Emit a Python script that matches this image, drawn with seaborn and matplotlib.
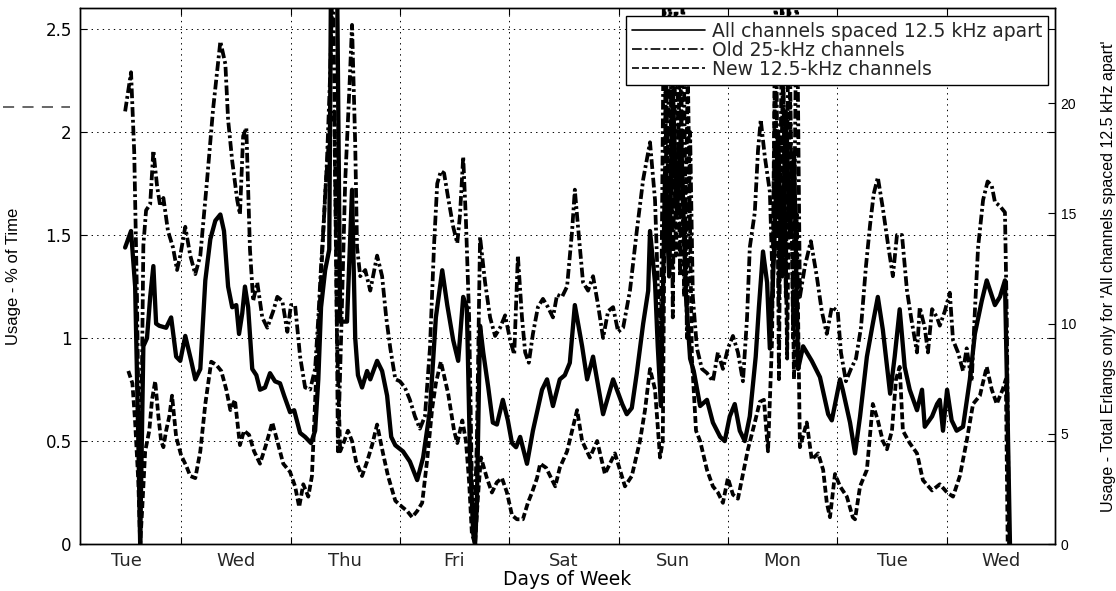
import matplotlib
matplotlib.use("Agg")
import matplotlib.pyplot as plt
from matplotlib.lines import Line2D
import seaborn as sns

# Hours since midnight at the start of the first Tuesday
all_hours = [11.7, 13.0, 13.9, 14.6, 15.0, 15.7, 16.5, 17.2, 17.9, 18.5, 19.2, 20.7, 21.8, 22.9, 23.8, 24.9, 26.2, 27.1, 28.2, 29.3,
             30.4, 31.5, 32.6, 33.4, 34.3, 35.2, 36.1, 36.7, 37.4, 38.0, 38.7, 39.6, 40.5, 41.3, 42.4, 43.5, 44.6, 45.7, 46.6, 47.9,
             48.8, 50.1, 51.2, 52.5, 53.4, 54.1, 54.7, 55.6, 56.5, 56.9, 58.2, 58.9, 60.4, 61.5, 62.2, 62.8, 63.7, 64.8, 65.5, 67.0,
             68.1, 69.2, 70.1, 71.0, 72.7, 74.2, 75.8, 77.1, 78.6, 79.9, 81.3, 82.4, 83.7, 84.8, 85.9, 86.7, 87.4, 88.1, 88.5, 88.9,
             89.6, 90.3, 91.4, 92.4, 93.3, 94.6, 95.7, 96.6, 97.5, 98.4, 99.9, 101.2, 103.2, 104.3, 105.6, 107.1, 108.2, 109.3, 110.4, 112.0,
             113.1, 114.4, 116.6, 118.8, 120.8, 121.8, 122.9, 124.0, 125.4, 126.5, 126.9, 128.0, 128.6, 129.3, 130.2, 131.1, 131.9, 132.8, 133.7, 134.8,
             135.7, 136.5, 137.9, 139.4, 140.7, 142.3, 143.3, 144.4, 145.5, 146.6, 147.7, 148.8, 150.1, 150.8, 151.7, 152.6, 153.2, 154.1, 155.0, 155.9,
             156.7, 157.6, 158.5, 159.4, 160.5, 162.4, 164.2, 166.0, 166.8, 168.6, 169.2, 170.8, 171.9, 173.0, 174.5, 175.8, 176.9, 178.0, 179.6, 180.6,
             181.7, 182.8, 183.9, 185.5, 186.6, 187.2, 188.8, 189.9, 190.5, 191.2, 192.1, 193.1, 194.2, 195.6, 197.1, 198.2, 199.7, 200.8, 202.6, 203.7,
             204.8, 205.4, 205.9]
all_erlangs = [13.45, 14.2, 11.68, 4.67, 0.0, 8.97, 9.34, 11.21, 12.61, 10.0, 9.9, 9.81, 10.28, 8.5, 8.31, 9.44, 8.31, 7.47, 7.94, 11.96,
               13.83, 14.67, 14.95, 14.2, 11.68, 10.74, 10.84, 9.53, 10.46, 11.68, 10.74, 7.94, 7.66, 7.0, 7.1, 7.75, 7.38, 7.29, 6.73, 5.98,
               6.07, 5.04, 4.86, 4.58, 5.14, 7.47, 10.74, 12.42, 13.36, 26.2, 26.2, 10.09, 10.09, 16.07, 9.34, 7.66, 7.1, 7.85, 7.47, 8.31,
               7.85, 6.73, 4.86, 4.48, 4.2, 3.74, 2.9, 3.92, 6.07, 10.28, 12.42, 10.84, 9.25, 8.31, 11.21, 10.74, 3.92, 0.47, 0.0, 1.87,
               9.9, 8.69, 7.1, 5.51, 5.42, 6.54, 5.61, 4.58, 4.39, 4.86, 3.64, 5.14, 7.0, 7.47, 6.26, 7.47, 7.66, 8.22, 10.84, 8.97,
               7.47, 8.5, 5.89, 7.47, 6.35, 5.89, 6.17, 7.75, 10.0, 11.49, 14.2, 11.86, 8.97, 6.26, 16.82, 12.14, 20.55, 14.95, 18.68, 11.21,
               8.41, 7.85, 6.26, 6.54, 5.51, 4.86, 4.67, 5.79, 6.35, 5.14, 4.67, 5.79, 8.5, 10.74, 13.27, 11.86, 8.87, 13.08, 18.68, 12.14,
               19.62, 14.01, 17.75, 7.94, 8.97, 8.31, 7.57, 5.89, 5.61, 7.47, 7.0, 5.51, 4.11, 5.79, 8.5, 10.0, 11.21, 9.72, 6.82, 8.5,
               10.65, 8.03, 7.0, 6.07, 7.0, 5.32, 5.79, 6.35, 6.54, 5.14, 7.0, 5.61, 5.14, 5.32, 7.47, 9.53, 11.02, 11.96, 10.84, 11.21,
               11.96, 5.61, 0.0]

old_hours = [11.7, 13.0, 13.7, 14.3, 15.0, 15.7, 16.3, 17.2, 17.9, 18.7, 19.4, 20.1, 21.1, 22.2, 23.1, 23.8, 24.9, 26.0, 27.1, 28.2,
             29.7, 31.0, 32.6, 33.7, 34.3, 35.2, 36.3, 36.9, 37.6, 38.3, 39.1, 39.8, 40.7, 41.8, 42.9, 44.2, 45.1, 46.2, 47.3, 48.1,
             49.0, 50.1, 51.2, 52.3, 53.4, 54.1, 54.7, 55.4, 56.0, 56.7, 57.3, 58.0, 58.4, 59.1, 60.0, 60.9, 61.5, 62.2, 62.6, 63.3,
             64.4, 65.5, 67.0, 68.1, 69.0, 69.9, 71.0, 72.0, 73.1, 74.2, 75.3, 76.4, 77.5, 78.6, 79.5, 80.2, 81.0, 81.7, 82.6, 83.7,
             84.6, 85.2, 85.9, 86.5, 87.2, 87.8, 88.3, 88.9, 89.6, 90.7, 91.8, 92.9, 94.0, 95.1, 96.2, 97.1, 97.9, 98.8, 99.5, 100.3,
             101.2, 102.3, 103.4, 104.5, 105.6, 106.5, 107.6, 108.7, 109.8, 110.4, 111.1, 112.2, 113.3, 114.4, 115.5, 116.6, 117.7, 118.8, 119.9, 121.0,
             122.5, 124.0, 125.4, 126.9, 128.0, 128.6, 129.3, 130.0, 130.6, 131.3, 131.9, 132.6, 133.5, 134.1, 135.0, 135.7, 136.3, 137.2, 138.3, 139.4,
             140.7, 141.8, 142.9, 144.0, 145.1, 146.2, 147.3, 148.2, 148.8, 149.9, 150.6, 151.2, 152.1, 153.2, 153.9, 154.5, 155.2, 155.9, 156.7, 157.4,
             158.3, 159.1, 159.8, 160.9, 162.2, 163.5, 164.6, 165.7, 166.8, 168.1, 168.8, 169.9, 171.0, 172.1, 173.2, 174.3, 175.2, 176.0, 176.9, 178.0,
             179.1, 180.2, 181.1, 182.2, 183.3, 184.2, 185.5, 186.1, 187.2, 187.9, 188.8, 189.9, 190.5, 191.6, 192.7, 193.4, 194.5, 195.6, 196.4, 197.5,
             198.2, 198.9, 200.0, 201.0, 201.9, 202.6, 203.7, 204.8, 205.2, 205.7]
old_pct = [2.10, 2.29, 1.90, 1.20, 0.05, 1.45, 1.62, 1.65, 1.91, 1.74, 1.64, 1.68, 1.52, 1.44, 1.33, 1.40, 1.54, 1.40, 1.31, 1.40,
           1.77, 2.11, 2.44, 2.33, 2.06, 1.86, 1.67, 1.60, 1.98, 2.02, 1.43, 1.18, 1.27, 1.10, 1.05, 1.13, 1.20, 1.18, 1.03, 1.16,
           1.16, 0.91, 0.76, 0.75, 0.85, 1.10, 1.35, 1.60, 1.86, 2.28, 2.80, 1.50, 0.45, 1.00, 1.76, 2.20, 2.52, 1.94, 1.44, 1.30,
           1.33, 1.23, 1.40, 1.30, 1.10, 0.95, 0.80, 0.79, 0.76, 0.70, 0.62, 0.56, 0.62, 0.95, 1.45, 1.75, 1.81, 1.80, 1.68, 1.54,
           1.46, 1.60, 1.88, 1.57, 1.10, 0.30, 0.05, 0.50, 1.49, 1.27, 1.10, 1.01, 1.05, 1.11, 0.99, 0.92, 1.40, 1.10, 0.93, 0.88,
           1.02, 1.15, 1.19, 1.15, 1.10, 1.21, 1.20, 1.25, 1.52, 1.72, 1.54, 1.27, 1.23, 1.30, 1.16, 1.00, 1.13, 1.15, 1.03, 1.05,
           1.23, 1.52, 1.77, 1.95, 1.67, 1.27, 0.95, 2.80, 1.50, 2.80, 1.10, 2.80, 1.30, 2.80, 1.00, 2.00, 1.20, 0.95, 0.85, 0.83,
           0.79, 0.93, 0.85, 0.95, 1.01, 0.93, 0.79, 1.10, 1.44, 1.61, 1.91, 2.06, 1.88, 1.71, 1.20, 2.80, 0.80, 2.80, 1.20, 2.80,
           1.00, 2.80, 1.20, 1.35, 1.47, 1.30, 1.13, 1.02, 1.15, 1.13, 0.93, 0.79, 0.85, 0.90, 1.05, 1.35, 1.55, 1.70, 1.78, 1.63,
           1.46, 1.30, 1.50, 1.50, 1.23, 1.10, 0.93, 1.15, 1.05, 0.93, 1.14, 1.10, 1.06, 1.13, 1.22, 0.99, 0.93, 0.84, 0.95, 0.79,
           1.13, 1.44, 1.67, 1.76, 1.74, 1.66, 1.64, 1.61, 1.10, 0.00]

new_hours = [12.4, 13.3, 13.9, 14.6, 15.0, 15.4, 16.1, 17.0, 17.6, 18.3, 19.0, 19.6, 20.1, 20.7, 21.4, 22.0, 22.9, 24.0, 25.1, 26.0,
             27.1, 28.2, 29.3, 30.6, 31.7, 32.8, 33.9, 34.8, 35.8, 36.9, 37.8, 38.9, 40.0, 41.3, 42.6, 44.0, 45.1, 46.4, 47.9, 49.0,
             49.9, 50.8, 51.9, 52.7, 53.6, 54.5, 55.6, 56.7, 57.6, 58.2, 58.9, 59.8, 60.6, 61.5, 62.4, 63.7, 64.8, 65.9, 67.0, 68.3,
             69.4, 71.0, 72.5, 73.6, 74.7, 75.8, 76.9, 78.0, 79.1, 79.9, 81.0, 82.6, 83.9, 84.6, 85.7, 86.5, 87.2, 87.8, 88.5, 89.2,
             89.8, 91.1, 92.2, 93.3, 94.4, 95.5, 96.6, 97.7, 99.0, 100.1, 101.0, 102.1, 102.8, 104.1, 105.0, 106.1, 107.1, 108.7, 109.8, 110.9,
             112.0, 113.7, 115.3, 117.0, 119.2, 121.4, 122.9, 124.7, 125.8, 126.9, 128.0, 129.1, 129.7, 130.4, 131.1, 131.7, 132.6, 133.5, 134.4, 135.2,
             136.1, 137.0, 137.9, 139.4, 140.7, 141.8, 142.9, 144.0, 145.1, 146.2, 147.3, 148.4, 149.9, 151.0, 151.9, 152.8, 153.7, 154.3, 155.2, 156.1,
             157.0, 157.6, 158.5, 159.1, 159.8, 161.3, 162.4, 163.8, 164.9, 165.7, 166.4, 167.5, 168.6, 170.1, 171.4, 171.9, 173.0, 174.5, 175.8, 176.9,
             178.0, 178.9, 180.0, 180.9, 181.7, 182.4, 183.9, 185.5, 186.8, 188.8, 190.5, 192.1, 193.4, 194.9, 196.4, 197.8, 199.3, 200.8, 201.9, 203.0,
             204.3, 205.0, 205.4]
new_pct = [0.84, 0.78, 0.59, 0.30, 0.00, 0.15, 0.45, 0.55, 0.70, 0.79, 0.62, 0.50, 0.47, 0.55, 0.62, 0.72, 0.52, 0.43, 0.38, 0.33,
           0.32, 0.45, 0.68, 0.885, 0.87, 0.84, 0.75, 0.65, 0.70, 0.48, 0.55, 0.53, 0.45, 0.39, 0.48, 0.59, 0.50, 0.39, 0.35, 0.28,
           0.18, 0.29, 0.23, 0.33, 0.80, 1.20, 1.70, 2.05, 2.10, 1.00, 0.45, 0.50, 0.55, 0.50, 0.40, 0.33, 0.40, 0.48, 0.58, 0.44,
           0.33, 0.21, 0.18, 0.16, 0.13, 0.16, 0.20, 0.41, 0.66, 0.78, 0.885, 0.73, 0.55, 0.49, 0.60, 0.50, 0.30, 0.05, 0.00, 0.25,
           0.42, 0.32, 0.25, 0.30, 0.32, 0.25, 0.14, 0.12, 0.12, 0.20, 0.25, 0.32, 0.39, 0.37, 0.33, 0.28, 0.37, 0.45, 0.55, 0.65,
           0.50, 0.42, 0.50, 0.34, 0.44, 0.28, 0.33, 0.50, 0.65, 0.85, 0.75, 0.42, 0.50, 2.40, 1.30, 2.50, 1.40, 2.40, 1.20, 2.30,
           0.90, 0.55, 0.50, 0.36, 0.28, 0.25, 0.20, 0.32, 0.24, 0.22, 0.34, 0.46, 0.59, 0.69, 0.70, 0.45, 1.00, 2.40, 1.20, 2.30,
           0.90, 2.20, 0.80, 1.60, 0.47, 0.59, 0.41, 0.44, 0.36, 0.20, 0.13, 0.34, 0.28, 0.23, 0.13, 0.12, 0.28, 0.36, 0.68, 0.60,
           0.50, 0.46, 0.55, 0.80, 0.86, 0.55, 0.49, 0.44, 0.31, 0.26, 0.29, 0.25, 0.23, 0.33, 0.50, 0.68, 0.72, 0.86, 0.75, 0.68,
           0.75, 0.80, 0.00]

assert len(all_hours) == len(all_erlangs)
assert len(old_hours) == len(old_pct)
assert len(new_hours) == len(new_pct)

day_names = ["Tue", "Wed", "Thu", "Fri", "Sat", "Sun", "Mon", "Tue", "Wed"]
day_starts = [24, 48, 72, 96, 120, 144, 168, 192]
day_middles = [12, 36, 60, 84, 108, 132, 156, 180, 204]
pct_ticks = [0, 0.5, 1, 1.5, 2, 2.5]
erlang_ticks = [0, 5, 10, 15, 20]
series_names = ["All channels spaced 12.5 kHz apart",
                "Old 25-kHz channels",
                "New 12.5-kHz channels"]

sns.set_theme(style="white")
plt.rcParams["font.family"] = ["DejaVu Sans"]
plt.rcParams["lines.scale_dashes"] = False

DASHED = (5.0, 2.2)
DASH_DOT = (7.0, 2.2, 2.0, 2.2)
LW = 2.7

fig = plt.figure(figsize=(11.16, 5.91), dpi=100)
ax = fig.add_axes([0.0717, 0.0795, 0.8737, 0.9063])
ax2 = ax.twinx()

sns.lineplot(x=old_hours, y=old_pct, ax=ax, color="black", lw=LW, sort=False, estimator=None)
ax.lines[-1].set_dashes(DASH_DOT)
sns.lineplot(x=new_hours, y=new_pct, ax=ax, color="black", lw=LW, sort=False, estimator=None)
ax.lines[-1].set_dashes(DASHED)
sns.lineplot(x=all_hours, y=all_erlangs, ax=ax2, color="black", lw=LW + 0.4, sort=False, estimator=None)

ax.set_xlim(1.8, 215.8)
ax.set_ylim(0, 2.6)
ax2.set_ylim(0, 24.3)

# Day boundaries carry the grid; day names sit between them
ax.set_xticks(day_starts)
ax.set_xticklabels([])
ax.set_xticks(day_middles, labels=day_names, minor=True)
ax.set_yticks(pct_ticks, labels=[f"{t:g}" for t in pct_ticks])
ax2.set_yticks(erlang_ticks, labels=[str(t) for t in erlang_ticks])

ax.grid(True, which="major", color="black", lw=0.7, linestyle=(0, (1, 3)))
ax.tick_params(axis="both", which="major", direction="in", length=5, width=0.8,
               top=True, right=True, bottom=True, left=True, colors="black")
ax.tick_params(axis="x", which="minor", length=0, pad=6, labelsize=13)
ax.tick_params(axis="y", which="major", pad=6, labelsize=12)
ax2.tick_params(axis="y", direction="in", length=5, width=0.8, pad=4, colors="black")
for lbl in ax2.get_yticklabels():
    lbl.set_fontfamily(["Liberation Sans", "DejaVu Sans"])
    lbl.set_fontsize(10)

for a in (ax, ax2):
    for sp in a.spines.values():
        sp.set_color("black")
        sp.set_linewidth(1.0)

ax.set_xlabel("Days of Week", fontsize=13.5, labelpad=0, color="black")
ax.set_ylabel("Usage - % of Time", fontsize=12, family=["Liberation Sans", "DejaVu Sans"], color="black")
ax.yaxis.set_label_coords(-0.061, 0.5)
ax2.set_ylabel("Usage - Total Erlangs only for 'All channels spaced 12.5 kHz apart'",
               fontsize=11.5, family=["Liberation Sans", "DejaVu Sans"], color="black", rotation=90)
ax2.yaxis.set_label_coords(1.047, 0.5)

handles = [Line2D([], [], color="black", lw=1.2),
           Line2D([], [], color="black", lw=1.2, dashes=DASH_DOT),
           Line2D([], [], color="black", lw=1.2, dashes=DASHED)]
leg = ax2.legend(handles, series_names, loc="upper right", bbox_to_anchor=(0.993, 0.985),
                 borderaxespad=0, frameon=True, fancybox=False, framealpha=1,
                 edgecolor="black", fontsize=13.5, handlelength=3.9, handletextpad=0.4,
                 labelspacing=0.0, borderpad=0.3)
leg.get_frame().set_linewidth(1.0)

# faint dashed mark left of the axes
fig.add_artist(Line2D([0.003, 0.063], [0.819, 0.819], transform=fig.transFigure,
                      color="0.3", lw=1.2, dashes=(8, 6)))

fig.savefig("out.png", dpi=100)
